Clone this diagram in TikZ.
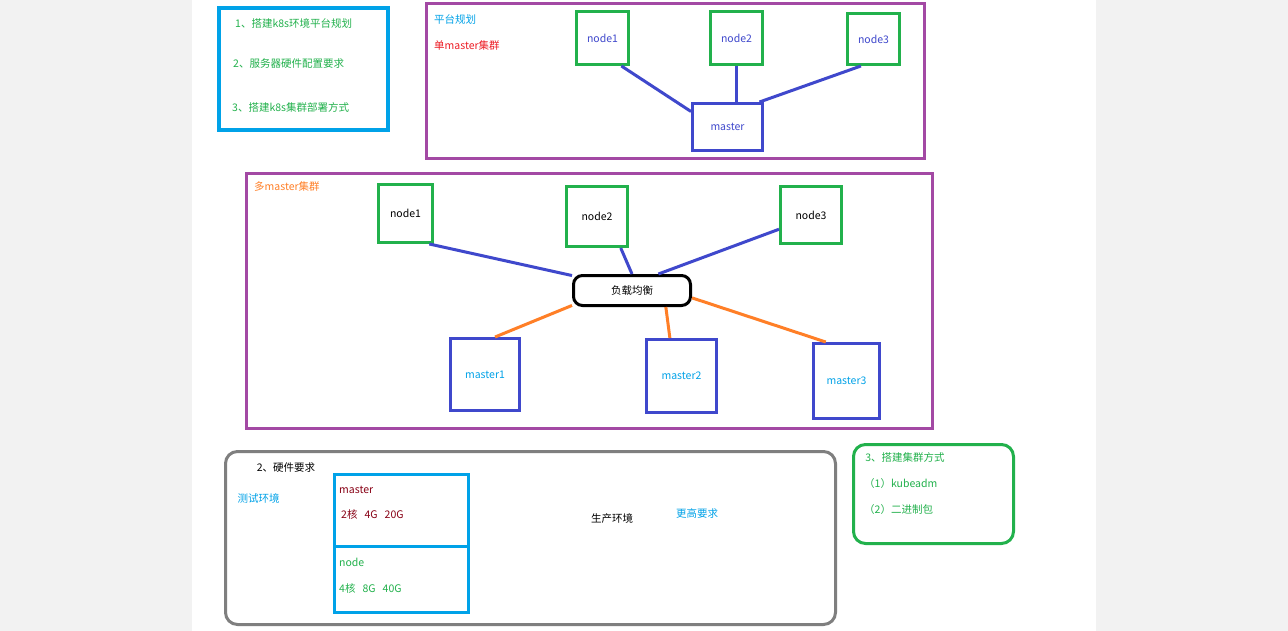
\documentclass[tikz,border=0pt]{standalone}
\usepackage{fontspec}
\setmainfont{Noto Sans CJK SC}
\usepackage{xcolor}
\usetikzlibrary{positioning}

\definecolor{pgreen}{HTML}{22B14C}
\definecolor{pblue}{HTML}{3F48CC}
\definecolor{ppurple}{HTML}{A349A4}
\definecolor{pcyan}{HTML}{00A2E8}
\definecolor{porange}{HTML}{FF7F27}
\definecolor{pdarkred}{HTML}{880015}
\definecolor{pred}{HTML}{ED1C24}
\definecolor{pgray}{HTML}{7F7F7F}

\begin{document}
\begin{tikzpicture}[x=1pt,y=-1pt,
                every node/.style={font=\fontsize{10.5}{12}\selectfont,inner sep=0pt},
                boxsize/.style 2 args={minimum width=#1pt,minimum height=#2pt},
                node box/.style={draw=pgreen,line width=3pt},
                master box/.style={draw=pblue,line width=3pt},
                blue link/.style={draw=pblue,line width=3pt},
                orange link/.style={draw=porange,line width=3pt},
                frame/.style={draw=ppurple,line width=3pt}]

      % page
      \useasboundingbox (0,0) rectangle (1288,631);
      \fill[black!5] (0,0) rectangle (1288,631);
      \fill[white] (192,0) rectangle (1096,631);

      % outline
      \draw[pcyan,line width=4pt] (219,8) rectangle (388,130);
      \node[anchor=west,text=pgreen] (t1) at (235,23) {1、搭建k8s环境平台规划};
      \node[anchor=west,text=pgreen] (t2) at (233,64) {2、服务器硬件配置要求};
      \node[anchor=west,text=pgreen] (t3) at (232,107) {3、搭建k8s集群部署方式};

      % single master
      \draw[frame] (426.5,3.5) rectangle (924.5,158.5);
      \node[anchor=west,text=pcyan] (plan) at (434,19) {平台规划};
      \node[anchor=west,text=pred] (single) at (434,46) {单master集群};
      \node[node box,boxsize={52}{53},text=pblue] (tn1) at (602.5,38) {node1};
      \node[node box,boxsize={52}{53},text=pblue] (tn2) at (736.5,38) {node2};
      \node[node box,boxsize={52}{51},text=pblue] (tn3) at (873.5,39) {node3};
      \node[master box,boxsize={70}{47},text=pblue] (tm) at (727.5,127) {master};
      \draw[blue link] (tn1.-56) -- (tm.157);
      \draw[blue link] (tn2.south) -- (tn2.south |- tm.north);
      \draw[blue link] (tn3.245) -- (tm.38);

      % multi master
      \draw[frame] (246.5,173.5) rectangle (932.5,428.5);
      \node[anchor=west,text=porange] (multi) at (254,187) {多master集群};
      \node[node box,boxsize={54}{58}] (mn1) at (405.5,213.5) {node1};
      \node[node box,boxsize={61}{60}] (mn2) at (597,216.5) {node2};
      \node[node box,boxsize={61}{57}] (mn3) at (811,215) {node3};
      \node[draw=black,line width=3pt,rounded corners=9pt,boxsize={117}{30}] (lb) at (632,290.5) {负载均衡};
      \node[master box,boxsize={69}{72},text=pcyan] (mm1) at (485,374.5) {master1};
      \node[master box,boxsize={70}{73},text=pcyan] (mm2) at (681.5,376) {master2};
      \node[master box,boxsize={66}{75},text=pcyan] (mm3) at (846.5,381) {master3};
      \draw[blue link] (mn1.-52) -- (lb.166);
      \draw[blue link] (mn2.-53) -- (lb.north);
      \draw[blue link] (mn3.204) -- (lb.32);
      \draw[orange link] (lb.194) -- (mm1.75);
      \draw[orange link] (lb.-26) -- (mm2.107);
      \draw[orange link] (lb.-7) -- (mm3.118);

      % hardware
      \draw[pgray,line width=3pt,rounded corners=12pt] (225.5,451.5) rectangle (835.5,624.5);
      \node (hw) at (286,468) {2、硬件要求};
      \node[text=pcyan] (test) at (258.5,498) {测试环境};
      \draw[pcyan,line width=3pt] (334.5,474.5) rectangle (468.5,612.5);
      \draw[pcyan,line width=3pt] (333,546) -- (468.5,546);
      \node[anchor=west,text=pdarkred] (hwm) at (339,490) {master};
      \node[anchor=west,text=pdarkred] (hwmv) at (341,514) {2核\ \ \ 4G\ \ \ 20G};
      \node[anchor=west,text=pgreen] (hwn) at (339,562) {node};
      \node[anchor=west,text=pgreen] (hwnv) at (339,588) {4核\ \ \ 8G\ \ \ 40G};
      \node (prod) at (612,519) {生产环境};
      \node[text=pcyan] (more) at (697,514) {更高要求};

      % deploy
      \draw[pgreen,line width=3pt,rounded corners=12pt] (853.5,444.5) rectangle (1013.5,543.5);
      \node[text=pgreen] (dep) at (905,457) {3、搭建集群方式};
      \node[anchor=west,text=pgreen] (dep1) at (864,484) {（1）kubeadm};
      \node[anchor=west,text=pgreen] (dep2) at (864,510) {（2）二进制包};
  \end{tikzpicture}
\end{document}
